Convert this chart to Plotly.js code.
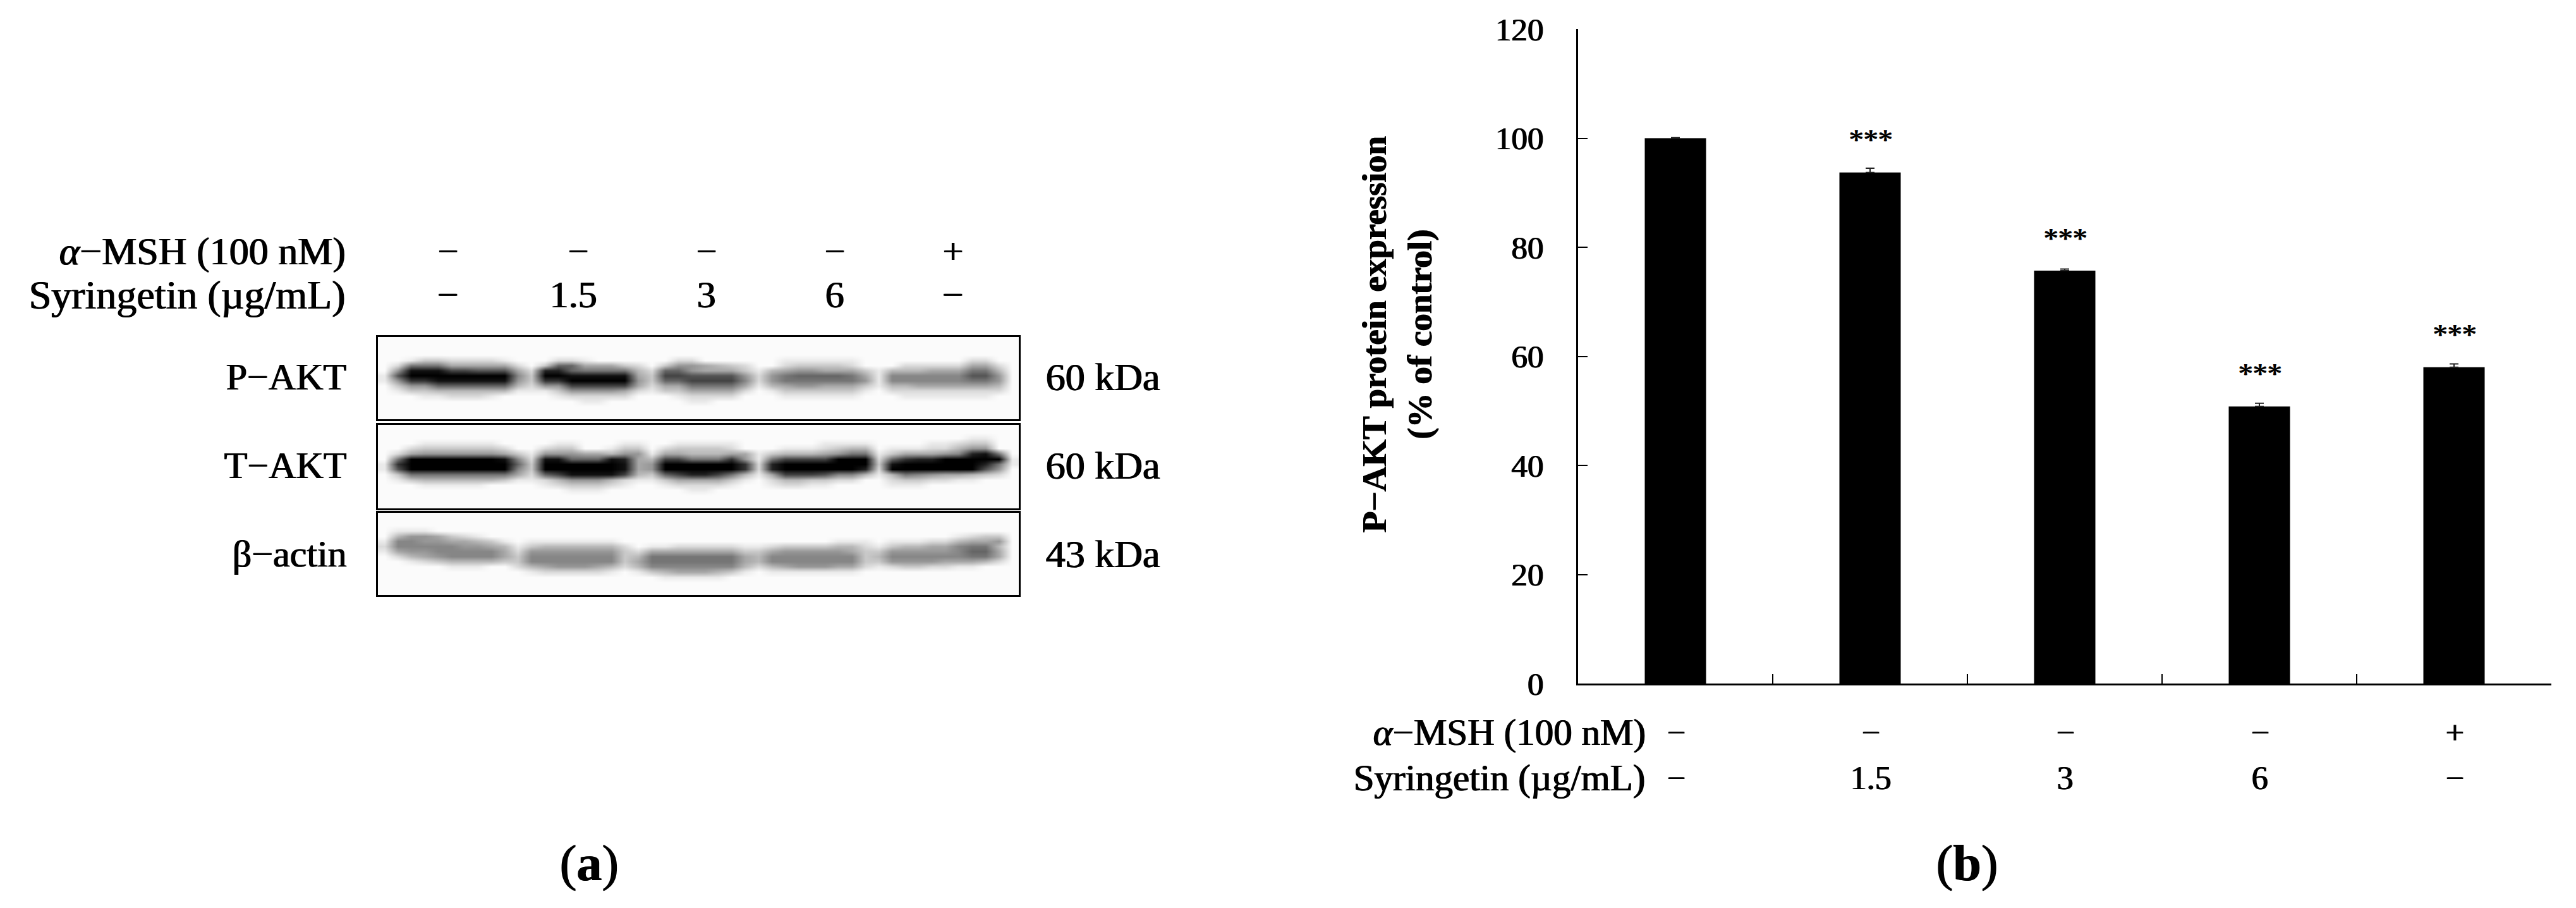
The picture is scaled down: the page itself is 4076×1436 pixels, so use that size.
<!DOCTYPE html>
<html>
<head>
<meta charset="utf-8">
<script src="https://cdn.plot.ly/plotly-3.0.1.min.js"></script>
<style>body { margin: 0; background: #fff; }</style>
</head>
<body>
<div id="chart"></div>
<script>
// (b) bar values
var groups = [0, 1, 2, 3, 4];
var expression = [100, 93.7, 75.7, 50.8, 58];
var errors = [0.1, 0.8, 0.3, 0.6, 0.6];
var stars = ['', '***', '***', '***', '***'];
var mshRow = ['\u2212', '\u2212', '\u2212', '\u2212', '+'];
var syrRow = ['\u2212', '1.5', '3', '6', '\u2212'];
var yTicks = [0, 20, 40, 60, 80, 100, 120];

// (a) blot labels
var blotNames = ['P\u2212AKT', 'T\u2212AKT', '\u03b2\u2212actin'];
var blotSizes = ['60 kDa', '60 kDa', '43 kDa'];

// (a) blot darkness, one hex digit per cell, 0 = paper, f = black
var pAkt = [
  '0 0000000000 000000000 00000000 0 00000000 0 000000000 0',
  '0 0000000000 000000000 00000000 0 00000000 0 000000000 0',
  '0 0000000000 000000000 00000000 0 00000000 0 000000000 0',
  '0 0000000000 000000000 00000000 0 00000000 0 000000000 0',
  '0 0133222210 002210000 00220000 0 01111110 0 000000220 0',
  '0 2888555552 039955532 03665432 0 02333320 0 022222552 0',
  '0 6eeebbaaa5 2dd988884 29965553 1 45665553 1 444555884 0',
  '1 affffffff7 3ffeeeee5 3bbaaaa6 2 68999985 1 777777aa6 0',
  '1 6cceeeeee6 3ccfffff6 399bbbb7 2 68888886 1 777777886 0',
  '0 3669999994 266bbbbb5 25588885 1 45665553 1 445555554 0',
  '0 1334444441 113666652 13355552 0 13333331 0 222222222 0',
  '0 0011222100 001222220 00122220 0 01111110 0 011111110 0',
  '0 0000000000 000011000 00011000 0 00000000 0 000000000 0',
  '0 0000000000 000000000 00000000 0 00000000 0 000000000 0',
  '0 0000000000 000000000 00000000 0 00000000 0 000000000 0',
  '0 0000000000 000000000 00000000 0 00000000 0 000000000 0'
];
var tAkt = [
  '0 0000000000 000000000 00000000 0 00000000 0 000000000 0',
  '0 0000000000 000000000 00000000 0 00000000 0 000000000 0',
  '0 0000000000 000000000 00000000 0 00000000 0 000000110 0',
  '0 0011111100 001100011 00111110 0 00001111 0 000112330 0',
  '0 0233333320 023300133 02333320 0 01112344 0 111224660 0',
  '0 2566666653 166655466 15544455 1 34445688 1 355567de8 0',
  '0 8fffffffe7 2ee999ed5 4bb888c6 1 8bbbbfff 2 9cddfffff 1',
  '1 cffffffff9 3ffffffe5 6ffffffc 2 dfffffff 3 effffffd8 1',
  '1 affffffff7 3ffffffe5 6ffffffc 2 dffffffd 2 fffffffa6 0',
  '0 3888888885 29beeeeb4 39bddb84 1 5bbba774 1 487655432 0',
  '0 1344444431 124666421 13555531 0 24433220 0 233221100 0',
  '0 0011111000 012333210 01222210 0 12211000 0 111000000 0',
  '0 0000000000 000111000 00011000 0 00000000 0 000000000 0',
  '0 0000000000 000000000 00000000 0 00000000 0 000000000 0',
  '0 0000000000 000000000 00000000 0 00000000 0 000000000 0',
  '0 0000000000 000000000 00000000 0 00000000 0 000000000 0'
];
var actin = [
  '0000000000 000000000 000000000 000000000 0000000000 0',
  '0000000000 000000000 000000000 000000000 0000000000 0',
  '0000000000 000000000 000000000 000000000 0000000000 0',
  '0111000000 000000000 000000000 000000000 0000000000 0',
  '0466532100 000000000 000000000 000000000 0000001233 0',
  '1776655431 011111110 000000000 000000111 0111224556 0',
  '2777776654 134444442 011222221 123333442 1344557884 0',
  '1566777775 266666663 255555553 356666653 3666667995 0',
  '0245677775 377777773 488888885 477777773 4777777885 0',
  '0012344443 377777773 588888885 477777773 3666655542 0',
  '0000011100 245666542 477777774 245666552 1233221100 0',
  '0000000000 012222210 134555431 011111110 0000000000 0',
  '0000000000 000000000 001111100 000000000 0000000000 0',
  '0000000000 000000000 000000000 000000000 0000000000 0',
  '0000000000 000000000 000000000 000000000 0000000000 0',
  '0000000000 000000000 000000000 000000000 0000000000 0'
];

var W = 4076, H = 1436;
var serif = 'Liberation Serif, serif';
var heavy = '1.4px 0 0 #000';

function px(x) { return x / W; }
function py(y) { return 1 - y / H; }
function toGrid(rows) {
  return rows.map(function (r) {
    return r.replace(/ /g, '').split('').map(function (c) { return parseInt(c, 16); });
  });
}
function label(text, x, y, anchor, size, angle) {
  return {
    text: text, xref: 'paper', yref: 'paper', x: px(x), y: py(y),
    xanchor: anchor, yanchor: 'middle', showarrow: false, textangle: angle || 0,
    font: { family: serif, size: size, color: '#000', shadow: heavy }
  };
}

var data = [{
  x: groups,
  y: expression,
  type: 'bar',
  width: 0.315,
  marker: { color: '#000' },
  error_y: { type: 'data', array: errors, symmetric: false, arrayminus: [0, 0, 0, 0, 0], color: '#222', thickness: 2, width: 7 },
  hoverinfo: 'skip'
}];

var blots = [pAkt, tAkt, actin];
blots.forEach(function (rows, i) {
  data.push({
    z: toGrid(rows),
    x0: 0, dx: 1, y0: 0, dy: 1,
    type: 'heatmap',
    zsmooth: 'best',
    zmin: 0, zmax: 15,
    colorscale: [[0, '#fbfbfb'], [1, '#000000']],
    showscale: false,
    hoverinfo: 'skip',
    xaxis: 'x' + (i + 2),
    yaxis: 'y' + (i + 2)
  });
});

var layout = {
  width: W,
  height: H,
  margin: { l: 0, r: 0, t: 0, b: 0 },
  paper_bgcolor: '#fff',
  plot_bgcolor: '#fff',
  showlegend: false,
  xaxis: {
    domain: [px(2497), px(4037)],
    range: [-0.5, 4.5],
    tickmode: 'array',
    tickvals: [-0.5, 0.5, 1.5, 2.5, 3.5, 4.5],
    ticks: 'inside', ticklen: 15, tickwidth: 2, tickcolor: '#000',
    showticklabels: false,
    showgrid: false, zeroline: false,
    showline: true, linecolor: '#000', linewidth: 3
  },
  yaxis: {
    domain: [py(1081), py(46)],
    range: [0, 120],
    tickmode: 'array',
    tickvals: yTicks,
    ticks: 'inside', ticklen: 15, tickwidth: 2, tickcolor: '#000',
    ticklabelstandoff: 42,
    tickfont: { family: serif, size: 51, color: '#000', shadow: heavy },
    showgrid: false, zeroline: false,
    showline: true, linecolor: '#000', linewidth: 3
  },
  annotations: []
};

var panelY = [[533, 663], [672, 804], [811, 941]];
panelY.forEach(function (p, i) {
  var common = {
    showticklabels: false, ticks: '', showgrid: false, zeroline: false,
    showline: true, mirror: true, linecolor: '#000', linewidth: 3
  };
  layout['xaxis' + (i + 2)] = Object.assign({ domain: [px(598), px(1612)], range: [-0.5, 47.5], anchor: 'y' + (i + 2) }, common);
  layout['yaxis' + (i + 2)] = Object.assign({ domain: [py(p[1]), py(p[0])], range: [15.5, -0.5], anchor: 'x' + (i + 2) }, common);
});

// text under the bars and the stars follow the bar axes
groups.forEach(function (g, i) {
  [[mshRow, 1158], [syrRow, 1230]].forEach(function (r) {
    layout.annotations.push({
      text: r[0][i], xref: 'x', yref: 'paper', x: g, y: py(r[1]), xanchor: 'center', yanchor: 'middle',
      showarrow: false, font: { family: serif, size: 52, color: '#000', shadow: heavy }
    });
  });
  if (stars[i]) {
    layout.annotations.push({
      text: stars[i], xref: 'x', yref: 'y', x: g, y: expression[i], yshift: 51, xanchor: 'center', yanchor: 'middle',
      showarrow: false, font: { family: serif, size: 46, color: '#000', shadow: heavy }
    });
  }
});

var mshLabel = '<i>\u03b1</i>\u2212MSH (100 nM)';
var syrLabel = 'Syringetin (\u00b5g/mL)';
layout.annotations.push(label(mshLabel, 2605, 1158, 'right', 59));
layout.annotations.push(label(syrLabel, 2605, 1230, 'right', 59));
layout.annotations.push(label('<b>P\u2212AKT protein expression<br>(% of control)</b>', 2210, 530, 'center', 55, -90));

layout.annotations.push(label(mshLabel, 548, 397, 'right', 62));
layout.annotations.push(label(syrLabel, 548, 466, 'right', 64));

var laneX = [708, 914, 1117, 1320, 1507];
var syrX = [708, 906, 1117, 1320, 1507];
laneX.forEach(function (x, i) {
  layout.annotations.push(label(mshRow[i], x, 397, 'center', 58));
  layout.annotations.push(label(syrRow[i], syrX[i], 466, 'center', 60));
});
blotNames.forEach(function (n, i) {
  var y = [596, 736, 876][i];
  layout.annotations.push(label(n, 550, y, 'right', 60));
  layout.annotations.push(label(blotSizes[i], 1652, y, 'left', 62));
});

layout.annotations.push(label('(<b>a</b>)', 931, 1365, 'center', 80));
layout.annotations.push(label('(<b>b</b>)', 3112, 1365, 'center', 80));

var config = { displayModeBar: false, responsive: false };
Plotly.newPlot('chart', data, layout, config);
</script>
</body>
</html>
